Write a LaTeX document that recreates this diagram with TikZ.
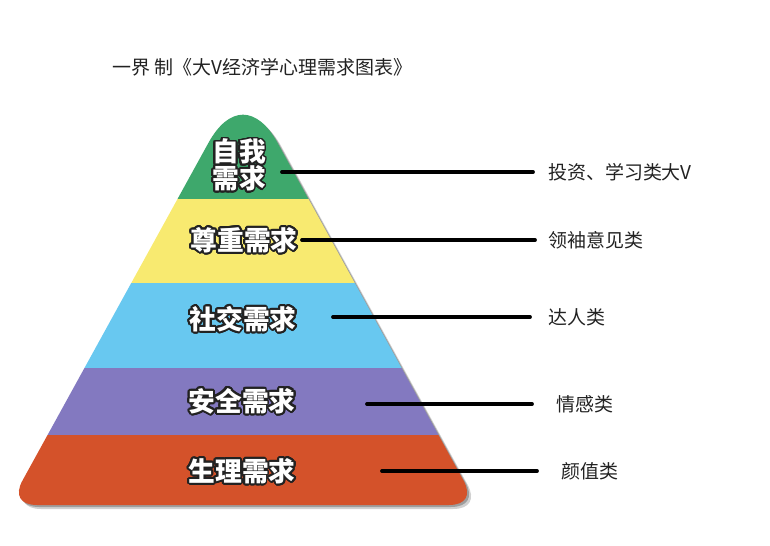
\documentclass[tikz,border=0pt]{standalone}
\usepackage{fontspec}
\usepackage{contour}
\usetikzlibrary{positioning}

\newfontfamily\cjk{Noto Sans CJK SC}
\contourlength{1.3pt}
\contournumber{24}

\definecolor{lvgreen}{RGB}{62,168,108}
\definecolor{lvyellow}{RGB}{248,234,112}
\definecolor{lvblue}{RGB}{104,200,240}
\definecolor{lvpurple}{RGB}{131,121,192}
\definecolor{lvred}{RGB}{212,82,42}
\definecolor{lvink}{RGB}{34,34,34}

% outline of the rounded pyramid (pixel units)
\newcommand{\pyramidoutline}{(37,505) -- (449,505) .. controls (465.8,505) and (471.6,495.2) .. (463.5,480.5)
  -- (277.7,143.1) .. controls (256.9,105.2) and (229.1,105.2) .. (208.3,143.1)
  -- (22.5,480.5) .. controls (14.4,495.2) and (20.2,505) .. (37,505) -- cycle}
\newcommand{\lvtext}[1]{\contour{lvink}{#1}}

\begin{document}
\begin{tikzpicture}[
    x=0.025cm, y=-0.025cm,
    level/.style={text=white, font=\cjk\bfseries\fontsize{19}{20}\selectfont, inner sep=0pt, align=center},
    tag/.style={text=lvink, font=\cjk\fontsize{13.5}{15}\selectfont, inner sep=0pt, anchor=west},
    link/.style={draw=black, line width=2.7pt, line cap=round}
  ]
  \useasboundingbox (0,0) rectangle (770,546);

  \node[tag] (title) at (112,67) {一界 制《大V经济学心理需求图表》};

  % shadow and layers
  \fill[black, opacity=0.18, shift={(4,4)}] \pyramidoutline;
  \fill[black, opacity=0.25, shift={(2,2)}] \pyramidoutline;
  \begin{scope}
    \clip \pyramidoutline;
    \foreach \ytop/\ybot/\col in {60/199/lvgreen, 199/283/lvyellow, 283/368/lvblue, 368/435/lvpurple, 435/520/lvred}
      \fill[\col] (0,\ytop) rectangle (490,\ybot);
  \end{scope}

  \node[level] (self) at (239,166) {\lvtext{自我}\\[-1pt]\lvtext{需求}};
  \node[level] (esteem) at (244,241) {\lvtext{尊重需求}};
  \node[level] (social) at (243,320) {\lvtext{社交需求}};
  \node[level] (safety) at (242,402) {\lvtext{安全需求}};
  \node[level] (body) at (242,472) {\lvtext{生理需求}};

  \coordinate (s1) at (282,172);
  \coordinate (s2) at (302,240);
  \coordinate (s3) at (333,317);
  \coordinate (s4) at (367,404);
  \coordinate (s5) at (382,471);

  \coordinate (e1) at (533,172);
  \coordinate (e2) at (535,240);
  \coordinate (e3) at (530,317);
  \coordinate (e4) at (532,404);
  \coordinate (e5) at (537,471);

  \node[tag, right=0.37cm of e1] (t1) {投资、学习类大V};
  \node[tag, right=0.33cm of e2] (t2) {领袖意见类};
  \node[tag, right=0.45cm of e3] (t3) {达人类};
  \node[tag, right=0.6cm of e4] (t4) {情感类};
  \node[tag, right=0.6cm of e5] (t5) {颜值类};

  \draw[link] (s1) -- (e1);
  \draw[link] (s2) -- (e2);
  \draw[link] (s3) -- (e3);
  \draw[link] (s4) -- (e4);
  \draw[link] (s5) -- (e5);

\end{tikzpicture}
\end{document}
